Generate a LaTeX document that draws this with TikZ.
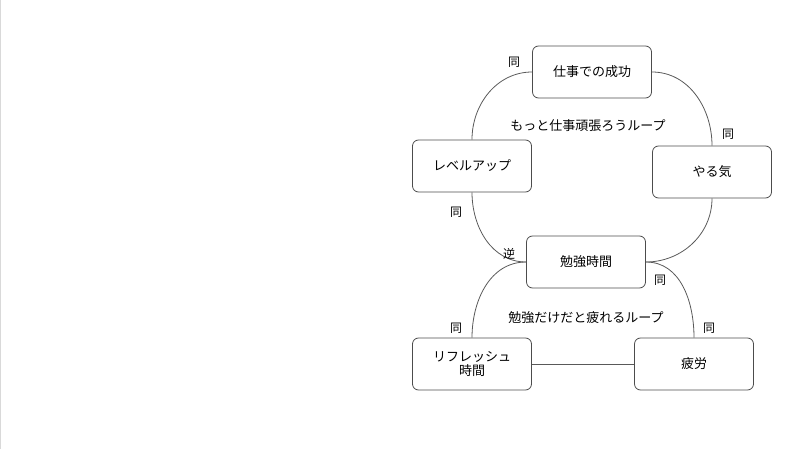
\documentclass[tikz,border=0pt]{standalone}
\usepackage{fontspec}
\setmainfont{Noto Sans CJK JP}
\begin{document}
\begin{tikzpicture}[x=1pt,y=-1pt,
  box/.style={draw=black!70,line width=0.8pt,rounded corners=6pt,minimum width=119pt,minimum height=52pt,align=center,font=\fontsize{13}{16}\selectfont,inner sep=0pt},
  con/.style={draw=black!65,line width=0.8pt},
  lab/.style={font=\fontsize{12}{14}\selectfont,inner sep=0pt},
  loop/.style={font=\fontsize{13}{16}\selectfont,inner sep=0pt}]
\useasboundingbox (0,0) rectangle (800,449);
\draw[black!15] (0.5,0) -- (0.5,449);
\node[box] (s) at (592,72) {仕事での成功};
\node[box] (y) at (712,172) {やる気};
\node[box] (l) at (472,166) {レベルアップ};
\node[box] (b) at (586,262) {勉強時間};
\node[box] (f) at (694,364) {疲労};
\node[box] (r) at (472,364) {リフレッシュ\\[-2pt]時間};
\draw[con] (s.west) to[out=180,in=90] (l.north);
\draw[con] (s.east) to[out=0,in=90] (y.north);
\draw[con] (y.south) to[out=-90,in=0] (b.east);
\draw[con] (l.south) to[out=-90,in=180] (b.west);
\draw[con] (b.west) to[out=180,in=90] (r.north);
\draw[con] (b.east) to[out=0,in=90] (f.north);
\draw[con] (r.east) -- (f.west);
\node[lab] (t1) at (514,62) {同};
\node[lab] (t2) at (728,134) {同};
\node[lab] (t3) at (456,212) {同};
\node[lab] (t4) at (509,254) {逆};
\node[lab] (t5) at (660,280) {同};
\node[lab] (t6) at (456,328) {同};
\node[lab] (t7) at (709,328) {同};
\node[loop] (L1) at (588,126) {もっと仕事頑張ろうループ};
\node[loop] (L2) at (586,318) {勉強だけだと疲れるループ};
\end{tikzpicture}
\end{document}
